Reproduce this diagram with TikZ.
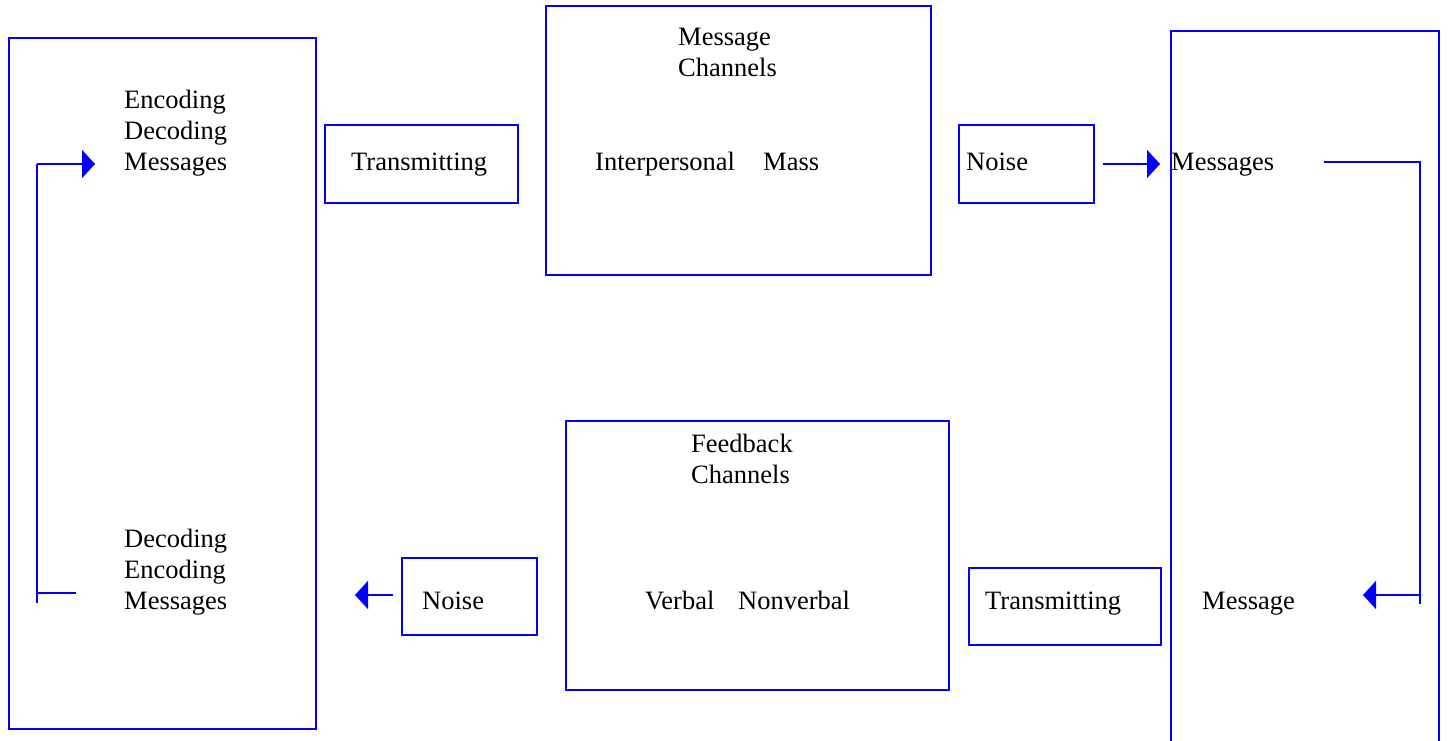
\documentclass[tikz,border=0pt]{standalone}
\usepackage{fontspec}
\setmainfont{Liberation Serif}
\usetikzlibrary{arrows.meta}
\definecolor{edge}{RGB}{0,0,255}
\tikzset{
  box/.style={draw=edge, line width=1.6pt, inner sep=0pt},
  lbl/.style={anchor=base west, inner sep=0pt, text=black,
              font=\fontsize{26.5}{31}\selectfont, align=left},
  link/.style={draw=edge, line width=2pt},
  tip/.style={link, -{Triangle[length=13pt,width=28pt]}}
}
\begin{document}
\begin{tikzpicture}[x=1pt,y=-1pt]
\clip (0,0) rectangle (1449,740);
\fill[white] (0,0) rectangle (1449,740);

% frames
\node[box, minimum width=307pt, minimum height=691pt] (sender)   at (162.5,383.5) {};
\node[box, minimum width=193pt, minimum height=78pt]  (txtop)    at (421.5,164)   {};
\node[box, minimum width=385pt, minimum height=269pt] (msgch)    at (738.5,140.5) {};
\node[box, minimum width=135pt, minimum height=78pt]  (noisetop) at (1026.5,164)  {};
\node[box, minimum width=268pt, minimum height=759pt] (receiver) at (1305,410.5)  {};
\node[box, minimum width=383pt, minimum height=269pt] (fbch)     at (757.5,555.5) {};
\node[box, minimum width=135pt, minimum height=77pt]  (noisebot) at (469.5,596.5) {};
\node[box, minimum width=192pt, minimum height=77pt]  (txbot)    at (1065,606.5)  {};

% labels (multi-line labels are placed by the baseline of their last line)
\node[lbl] (enc1) at (124,170) {Encoding\\Decoding\\Messages};
\node[lbl] (enc2) at (124,609) {Decoding\\Encoding\\Messages};
\node[lbl] (tx1)  at (351,170) {Transmitting};
\node[lbl] (mc)   at (678,76)  {Message\\Channels};
\node[lbl] (ip)   at (595,170) {Interpersonal};
\node[lbl] (mass) at (763,170) {Mass};
\node[lbl] (nz1)  at (966,170) {Noise};
\node[lbl] (msgs) at (1171,170) {Messages};
\node[lbl] (fc)   at (691,483) {Feedback\\Channels};
\node[lbl] (vb)   at (645,609) {Verbal};
\node[lbl] (nvb)  at (738,609) {Nonverbal};
\node[lbl] (nz2)  at (422,609) {Noise};
\node[lbl] (tx2)  at (985,609) {Transmitting};
\node[lbl] (msg)  at (1202,609) {Message};

% connector points
\coordinate (lTop)   at (37,164);
\coordinate (lBot)   at (37,603);
\coordinate (lStub)  at (37,593);
\coordinate (lStubE) at (76,593);
\coordinate (lTip)   at (95,164);
\coordinate (nTail)  at (1103,164);
\coordinate (nTip)   at (1160,164);
\coordinate (rStart) at (1324,162);
\coordinate (rCorner) at (1420,162);
\coordinate (rBot)   at (1420,604);
\coordinate (rStub)  at (1420,595);
\coordinate (rTip)   at (1363,595);
\coordinate (bTail)  at (393,595);
\coordinate (bTip)   at (355,595);

% connectors
\draw[link] (lTop) -- (lBot);
\draw[link] (lStub) -- (lStubE);
\draw[tip]  (lTop) -- (lTip);
\draw[tip]  (nTail) -- (nTip);
\draw[link] (rStart) -- (rCorner) -- (rBot);
\draw[tip]  (rStub) -- (rTip);
\draw[tip]  (bTail) -- (bTip);
\end{tikzpicture}
\end{document}
